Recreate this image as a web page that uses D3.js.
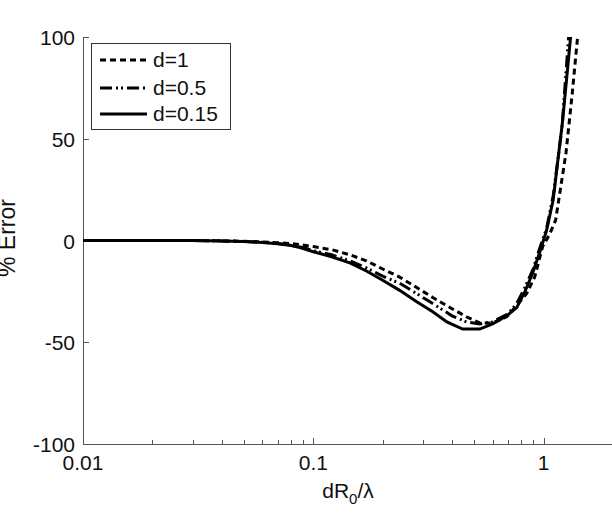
<!DOCTYPE html>
<html>
<head>
<meta charset="utf-8">
<script src="https://cdn.jsdelivr.net/npm/d3@7"></script>
<style>
  body { margin: 0; background: #fff; }
  svg { display: block; font-family: "Liberation Sans", Arial, sans-serif; }
</style>
</head>
<body>
<svg width="612" height="516"></svg>
<script>
var width = 612,
    height = 516;

// data
var xD1 = [0.01, 0.02, 0.03, 0.04, 0.05, 0.06, 0.07, 0.08, 0.09, 0.1, 0.12, 0.144, 0.17, 0.2, 0.237, 0.28, 0.33, 0.4, 0.463, 0.528, 0.6, 0.691, 0.764, 0.844, 0.914, 0.99, 1.06, 1.127, 1.25, 1.33, 1.404, 1.45];
var yD1 = [0, 0, 0, -0.2, -0.4, -0.7, -1.1, -1.5, -2.2, -3, -4.5, -7, -10, -14, -18, -23, -28, -33.5, -37.5, -40.5, -40.5, -37.5, -32, -26, -18, -3, 3, 10, 43, 72, 100, 115];

var xD05 = [0.01, 0.02, 0.03, 0.04, 0.05, 0.06, 0.07, 0.08, 0.09, 0.1, 0.12, 0.144, 0.17, 0.2, 0.237, 0.28, 0.33, 0.4, 0.463, 0.528, 0.6, 0.7, 0.764, 0.83, 0.9, 0.96, 1.03, 1.1, 1.2, 1.283, 1.33];
var yD05 = [0, 0, 0, -0.2, -0.5, -0.9, -1.5, -2.3, -3.4, -5, -7, -10, -13.5, -17.5, -21, -26, -31, -37, -40, -41, -40, -36, -31, -23, -14, -4, 6, 22, 55, 100, 120];

var xD015 = [0.01, 0.02, 0.03, 0.04, 0.05, 0.06, 0.07, 0.08, 0.0874, 0.1, 0.12, 0.144, 0.17, 0.2, 0.237, 0.28, 0.33, 0.38, 0.445, 0.528, 0.6, 0.644, 0.7, 0.764, 0.83, 0.896, 0.96, 1.03, 1.1, 1.209, 1.309, 1.35];
var yD015 = [0, 0, 0, -0.2, -0.5, -1, -1.6, -2.5, -3.5, -5.5, -8, -11, -15, -19.5, -24.5, -30, -35, -40, -43.5, -43.5, -41, -39, -36.5, -33, -25, -16, -6, 5, 20, 59, 100, 120];

var seriesNames = ["d=1", "d=0.5", "d=0.15"];
var seriesDash = ["6,4", "12,4,2,3,2,4", null];

var xTicks = [0.01, 0.1, 1];
var xTickLabels = ["0.01", "0.1", "1"];
var yTicks = [-100, -50, 0, 50, 100];

var plotLeft = 83, plotRight = 613, plotTop = 37, plotBottom = 444;
var fontSize = 21;

var svg = d3.select("svg");

var x = d3.scaleLog().domain([0.01, 2]).range([plotLeft, plotRight]);
var y = d3.scaleLinear().domain([-100, 100]).range([plotBottom, plotTop]);

var axisColor = "#555";

svg.append("clipPath").attr("id", "plotclip")
    .append("rect")
    .attr("x", plotLeft).attr("y", plotTop)
    .attr("width", plotRight - plotLeft).attr("height", plotBottom - plotTop);

///////////////////////
// axes
///////////////////////

var minorTicks = [];
[0.01, 0.1, 1].forEach(function(dec) {
    for (var k = 2; k <= 9; k++) {
        if (dec * k <= 2) minorTicks.push(dec * k);
    }
});

var gx = svg.append("g");
gx.append("line")
    .attr("x1", plotLeft).attr("x2", plotRight)
    .attr("y1", plotBottom + 0.5).attr("y2", plotBottom + 0.5)
    .attr("stroke", axisColor).attr("stroke-width", 1);

gx.selectAll(".minor")
    .data(minorTicks)
    .enter()
    .append("line")
    .attr("x1", function(d) { return Math.round(x(d)) + 0.5; })
    .attr("x2", function(d) { return Math.round(x(d)) + 0.5; })
    .attr("y1", plotBottom).attr("y2", plotBottom - 4)
    .attr("stroke", axisColor);

gx.selectAll(".major")
    .data(xTicks)
    .enter()
    .append("line")
    .attr("x1", function(d) { return Math.round(x(d)) + 0.5; })
    .attr("x2", function(d) { return Math.round(x(d)) + 0.5; })
    .attr("y1", plotBottom).attr("y2", plotBottom - 6)
    .attr("stroke", axisColor);

gx.selectAll(".xlabel")
    .data(xTicks)
    .enter()
    .append("text")
    .attr("x", function(d) { return x(d); })
    .attr("y", plotBottom + 26)
    .attr("text-anchor", "middle")
    .attr("font-size", fontSize)
    .attr("fill", "#111")
    .text(function(d, i) { return xTickLabels[i]; });

var gy = svg.append("g");
gy.append("line")
    .attr("x1", plotLeft + 0.5).attr("x2", plotLeft + 0.5)
    .attr("y1", plotTop).attr("y2", plotBottom)
    .attr("stroke", axisColor).attr("stroke-width", 1);

gy.selectAll(".ytick")
    .data(yTicks)
    .enter()
    .append("line")
    .attr("x1", plotLeft).attr("x2", plotLeft + 6)
    .attr("y1", function(d) { return Math.round(y(d)) + 0.5; })
    .attr("y2", function(d) { return Math.round(y(d)) + 0.5; })
    .attr("stroke", axisColor);

gy.selectAll(".ylabel")
    .data(yTicks)
    .enter()
    .append("text")
    .attr("x", plotLeft - 8)
    .attr("y", function(d) { return y(d) + 8; })
    .attr("text-anchor", "end")
    .attr("font-size", fontSize)
    .attr("fill", "#111")
    .text(function(d) { return d; });

// axis titles
var xt = svg.append("text")
    .attr("x", 348)
    .attr("y", 498)
    .attr("text-anchor", "middle")
    .attr("font-size", fontSize)
    .attr("fill", "#111");
xt.append("tspan").text("dR");
xt.append("tspan").attr("font-size", 15).attr("dy", 6).text("0");
xt.append("tspan").attr("dy", -6).text("/λ");

svg.append("text")
    .attr("transform", "translate(15,238) rotate(-90)")
    .attr("text-anchor", "middle")
    .attr("font-size", 23)
    .attr("fill", "#111")
    .text("% Error");

///////////////////////
// curves
///////////////////////

var series = [
    { xs: xD1, ys: yD1 },
    { xs: xD05, ys: yD05 },
    { xs: xD015, ys: yD015 }
];

var line = d3.line()
    .x(function(d) { return x(d[0]); })
    .y(function(d) { return y(d[1]); });

svg.append("g")
    .attr("clip-path", "url(#plotclip)")
    .selectAll(".curve")
    .data(series)
    .enter()
    .append("path")
    .attr("d", function(s) {
        return line(s.xs.map(function(v, i) { return [v, s.ys[i]]; }));
    })
    .attr("fill", "none")
    .attr("stroke", "#000")
    .attr("stroke-width", 3)
    .attr("stroke-dasharray", function(s, i) { return seriesDash[i]; });

///////////////////////
// legend
///////////////////////

var legend = svg.append("g");
legend.append("rect")
    .attr("x", 91.5).attr("y", 43.5)
    .attr("width", 139).attr("height", 86)
    .attr("fill", "#fff")
    .attr("stroke", "#333")
    .attr("stroke-width", 1);

var rowY = [60, 88, 114];

legend.selectAll(".lline")
    .data(seriesNames)
    .enter()
    .append("line")
    .attr("x1", 100).attr("x2", 147)
    .attr("y1", function(d, i) { return rowY[i]; })
    .attr("y2", function(d, i) { return rowY[i]; })
    .attr("stroke", "#000")
    .attr("stroke-width", 3)
    .attr("stroke-dasharray", function(d, i) { return seriesDash[i]; });

legend.selectAll(".ltext")
    .data(seriesNames)
    .enter()
    .append("text")
    .attr("x", 153)
    .attr("y", function(d, i) { return rowY[i] + 7; })
    .attr("font-size", fontSize)
    .attr("fill", "#111")
    .text(function(d) { return d; });
</script>
</body>
</html>
